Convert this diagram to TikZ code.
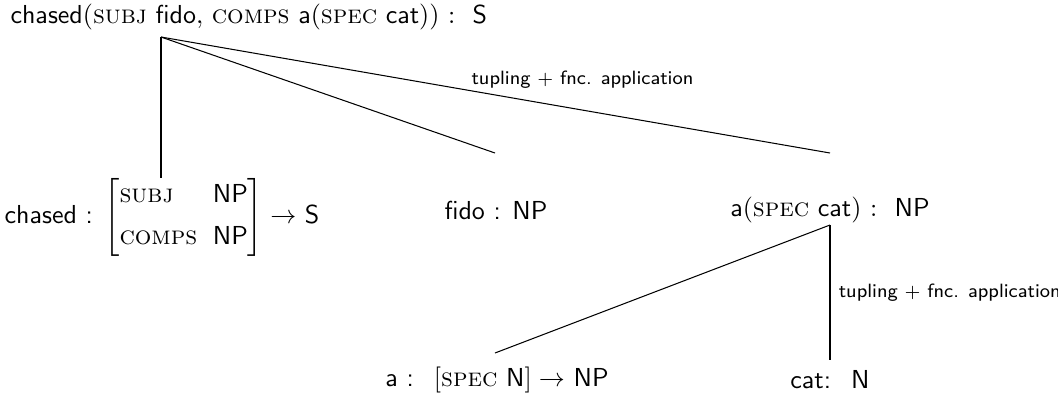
\documentclass[tikz,border=0pt]{standalone}
\usepackage{amsmath}
\tikzset{
  cat/.style={font=\sffamily, inner sep=0pt},
  rule/.style={font=\sffamily\fontsize{7.4}{9}\selectfont, inner sep=1pt},
  head/.style={thick},
  arg/.style={thin}
}
\newcommand{\ft}[1]{\textrm{\textsc{#1}}}
\begin{document}
\begin{tikzpicture}[x=0.3847pt,y=-0.3847pt]
        \useasboundingbox (0,0) rectangle (1058,406);

        \node[cat,anchor=west] (top) at (10,17) {chased$($\ft{subj} fido$,$ \ft{comps} a$($\ft{spec} cat$))$ $:$~ S};
        \node[cat] (chased) at (162,217) {chased : $\left[\begin{array}{@{}l@{\hspace{6pt}}l@{}}\ft{subj} & \textsf{NP}\\[4pt] \ft{comps} & \textsf{NP}\end{array}\right]\rightarrow$ S};
        \node[cat] (fido) at (496,210) {fido : NP};
        \node[cat] (anp) at (830,210) {a$($\ft{spec} cat$)$ $:$~ NP};
        \node[cat] (a) at (497,380) {a : ~$[$\ft{spec} N$]\rightarrow$ NP};
        \node[cat] (catn) at (830,380) {cat:~ N};

        \coordinate (t0) at (161,37);
        \coordinate (t1) at (161,178);
        \coordinate (t2) at (495,153);
        \coordinate (t3) at (830,153);
        \coordinate (m0) at (830,225);
        \coordinate (m1) at (495,353);
        \coordinate (m2) at (830,360);

        \draw[head] (t0) -- (t1);
        \draw[arg] (t0) -- (t2);
        \draw[arg] (t0) -- (t3) node[rule,pos=0.63,above=7pt] {tupling $+$ fnc. application};

        \draw[arg] (m0) -- (m1);
        \draw[head] (m0) -- (m2) node[rule,midway,right=2pt] {tupling $+$ fnc. application};

    \end{tikzpicture}
\end{document}
